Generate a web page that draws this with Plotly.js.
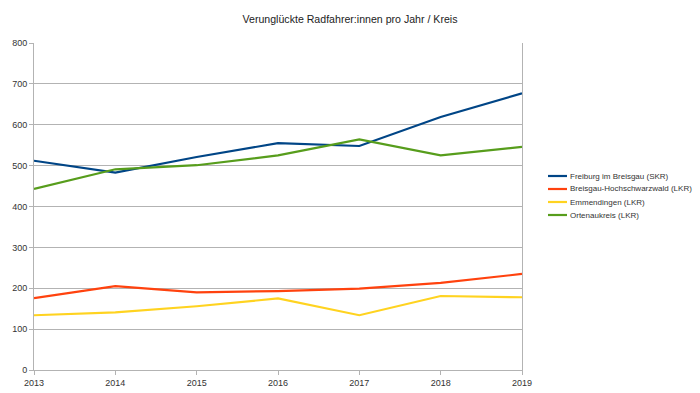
<!DOCTYPE html>
<html><head><meta charset="utf-8">
<script src="https://cdn.plot.ly/plotly-3.0.1.min.js"></script>
<style>html,body{margin:0;padding:0;background:#fff}#chart{width:700px;height:393px}</style>
</head><body><div id="chart"></div>
<script>
const years = ['2013','2014','2015','2016','2017','2018','2019'];
const seriesNames = ['Freiburg im Breisgau (SKR)','Breisgau-Hochschwarzwald (LKR)','Emmendingen (LKR)','Ortenaukreis (LKR)'];
const freiburg = [512, 483, 521, 555, 548, 619, 677];
const breisgau = [176, 205, 190, 193, 199, 213, 235];
const emmendingen = [134, 141, 156, 175, 134, 181, 178];
const ortenau = [443, 491, 501, 525, 564, 525, 546];
const colors = ['#004586','#ff420e','#ffd320','#579d1c'];
const yTicks = [0,100,200,300,400,500,600,700,800];

const all = [freiburg, breisgau, emmendingen, ortenau];
const traces = all.map((v,i)=>({
  x: years, y: v, name: seriesNames[i], type:'scatter', mode:'lines',
  line:{color:colors[i], width:2.2}
}));

// custom legend (compact, like the original)
const W = 488, H = 327;
const legTop = 370 - 176, legStep = 13;
const shapes = [], annotations = [];
seriesNames.forEach((n,i)=>{
  const py = (legTop - i*legStep)/H;
  shapes.push({type:'line', xref:'paper', yref:'paper', x0:(548-34)/W, x1:(567-34)/W, y0:py, y1:py,
               line:{color:colors[i], width:2.2}});
  annotations.push({xref:'paper', yref:'paper', x:(568-34)/W, y:py, xanchor:'left', yanchor:'middle',
               text:n, showarrow:false, font:{size:8, color:'#333'}});
});

const layout = {
  width:700, height:393,
  margin:{l:34, r:178, t:43, b:23},
  paper_bgcolor:'#fff', plot_bgcolor:'#fff',
  font:{family:'Liberation Sans, Arial, sans-serif', size:9, color:'#333'},
  title:{text:'Verunglückte Radfahrer:innen pro Jahr / Kreis', x:0.5, xanchor:'center', y:0.95, yanchor:'middle',
         font:{family:'Liberation Sans, Arial, sans-serif', size:10.6, color:'#222'}},
  xaxis:{type:'category', range:[0,6], showgrid:false, showline:true, linecolor:'#b3b3b3', linewidth:1,
         ticks:'outside', ticklen:4, tickcolor:'#b3b3b3', tickfont:{size:9, color:'#333'}, zeroline:false},
  yaxis:{range:[0,800], tickvals:yTicks, showgrid:true, gridcolor:'#b3b3b3', gridwidth:1,
         showline:true, mirror:true, linecolor:'#b3b3b3', linewidth:1,
         ticks:'outside', ticklen:4, tickcolor:'#b3b3b3', tickfont:{size:9, color:'#333'}, zeroline:false},
  showlegend:false,
  shapes: shapes,
  annotations: annotations
};
Plotly.newPlot('chart', traces, layout, {staticPlot:true, displayModeBar:false});
</script></body></html>
